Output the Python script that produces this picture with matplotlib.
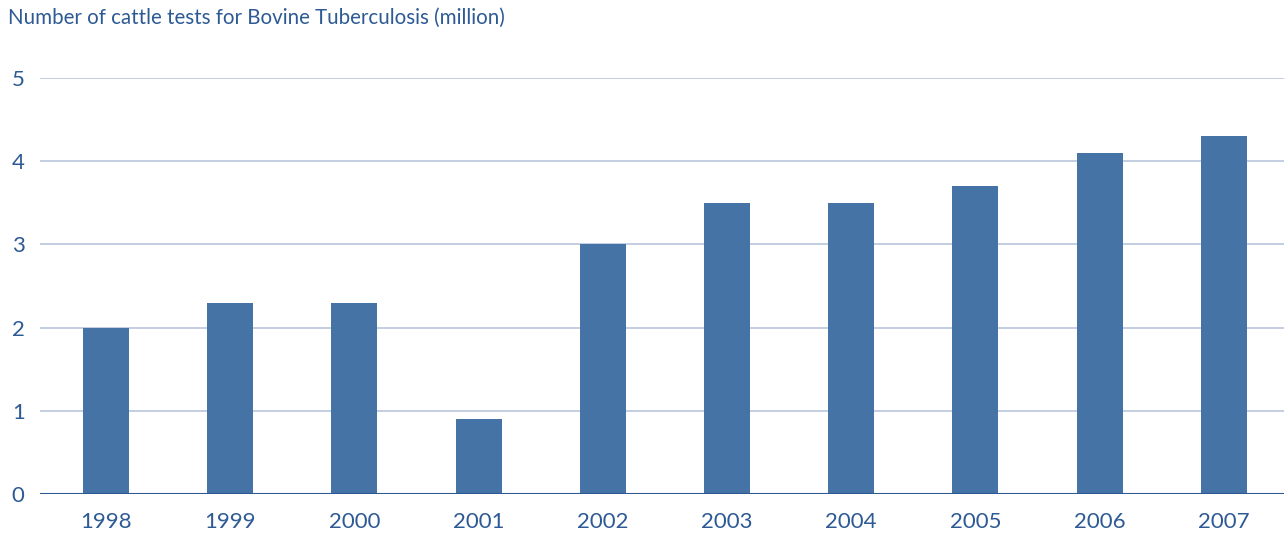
import matplotlib
matplotlib.use("Agg")
import matplotlib.pyplot as plt

years = ["1998", "1999", "2000", "2001", "2002", "2003", "2004", "2005", "2006", "2007"]
tests_million = [2.0, 2.3, 2.3, 0.9, 3.0, 3.5, 3.5, 3.7, 4.1, 4.3]
y_ticks = [0, 1, 2, 3, 4, 5]

bar_color = "#4673a5"
text_color = "#2d5a94"
grid_color = "#b9c7dc"

plt.rcParams["font.family"] = ["Lato", "DejaVu Sans"]

fig = plt.figure(figsize=(12.84, 5.38), dpi=100)
ax = fig.add_axes([40 / 1284, 1 - 494.3 / 538, 1 - 40 / 1284, (494.3 - 77.8) / 538])

x = range(len(years))
ax.bar(x, tests_million, width=0.37, color=bar_color, zorder=3)

ax.set_xlim(-0.531, 9.485)
ax.set_ylim(0, 5)
ax.set_yticks(y_ticks)
ax.set_yticklabels([str(t) for t in y_ticks])
ax.set_xticks(list(x))
ax.set_xticklabels(years)

ax.grid(axis="y", color=grid_color, linewidth=1.2, zorder=1)
ax.axhline(0, color=text_color, linewidth=1.5, zorder=4)
for side in ["top", "right", "left", "bottom"]:
    ax.spines[side].set_visible(False)

ax.tick_params(axis="both", length=0, labelcolor=text_color, labelsize=16)
ax.tick_params(axis="y", pad=11)
ax.tick_params(axis="x", pad=13)
for lbl in ax.get_yticklabels():
    lbl.set_horizontalalignment("right")
    lbl.set_verticalalignment("center_baseline")

fig.text(8 / 1284, 1 - 18 / 538, "Number of cattle tests for Bovine Tuberculosis (million)",
         color=text_color, fontsize=14.8, ha="left", va="center")

fig.savefig("out.png", dpi=100, facecolor="white")
